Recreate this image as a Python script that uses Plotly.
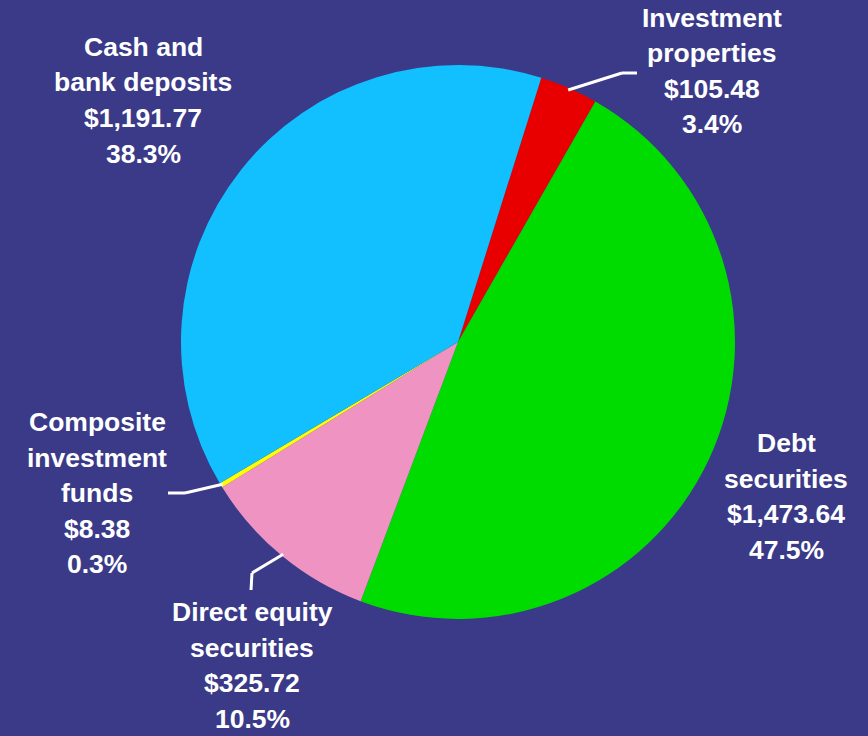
import math
import plotly.graph_objects as go

# ---- data ----
categories = ["Investment properties", "Debt securities", "Direct equity securities",
              "Composite investment funds", "Cash and bank deposits"]
values = [105.48, 1473.64, 325.72, 8.38, 1191.77]
value_labels = ["$105.48", "$1,473.64", "$325.72", "$8.38", "$1,191.77"]
pct_labels = ["3.4%", "47.5%", "10.5%", "0.3%", "38.3%"]
name_lines = [["Investment", "properties"], ["Debt", "securities"],
              ["Direct equity", "securities"], ["Composite", "investment", "funds"],
              ["Cash and", "bank deposits"]]
colors = ["#e80000", "#00dc00", "#ef93c3", "#ffff00", "#12bfff"]

# ---- layout (pixels) ----
W, H = 868, 736
CX, CY, R = 458, 342, 277
ROTATION = 17.5
# label block: centre x, first line y (px)
label_pos = {
    0: (712, 18),
    1: (786, 443),
    2: (252, 612),
    3: (97, 422),
    4: (143, 47),
}
LINE_STEP = 35.5
# leader lines: (elbow, end) in px for slices that have them
leaders = {
    0: ((622, 73), (637, 73)),
    2: ((252, 573), (251, 590)),
    3: ((185, 493), (168, 493)),
}


def px(x):
    return x / W


def py(y):
    return 1 - y / H


fig = go.Figure(go.Pie(
    labels=categories,
    values=values,
    sort=False,
    direction="clockwise",
    rotation=ROTATION,
    marker=dict(colors=colors, line=dict(width=0)),
    textinfo="none",
    hoverinfo="label+value+percent",
    showlegend=False,
    domain=dict(x=[px(CX - R), px(CX + R)], y=[py(CY + R), py(CY - R)]),
))

annotations = []
for i in range(len(categories)):
    lx, ly = label_pos[i]
    lines = name_lines[i] + [value_labels[i], pct_labels[i]]
    for k, t in enumerate(lines):
        annotations.append(dict(
            text="<b>" + t + "</b>", x=px(lx), y=py(ly + k * LINE_STEP),
            xref="paper", yref="paper",
            xanchor="center", yanchor="middle", showarrow=False,
            font=dict(family="Liberation Sans, Arial, sans-serif", size=26.5, color="white"),
        ))

shapes = []
total = sum(values)
cum = 0.0
for i, v in enumerate(values):
    mid = ROTATION + (cum + v / 2) / total * 360
    cum += v
    if i in leaders:
        a = math.radians(mid)
        sx = CX + (R - 2) * math.sin(a)
        sy = CY - (R - 2) * math.cos(a)
        (ex, ey), (fx, fy) = leaders[i]
        for (x0, y0, x1, y1) in [(sx, sy, ex, ey), (ex, ey, fx, fy)]:
            shapes.append(dict(type="line", xref="paper", yref="paper",
                               x0=px(x0), y0=py(y0), x1=px(x1), y1=py(y1),
                               line=dict(color="white", width=3)))

fig.update_layout(
    width=W, height=H,
    margin=dict(l=0, r=0, t=0, b=0),
    paper_bgcolor="#3a3a88",
    plot_bgcolor="#3a3a88",
    annotations=annotations,
    shapes=shapes,
)

fig.write_html("out.html",
               config={"displayModeBar": False},
               post_script="document.body.style.margin='0px';"
                           "document.body.style.background='#3a3a88';")
